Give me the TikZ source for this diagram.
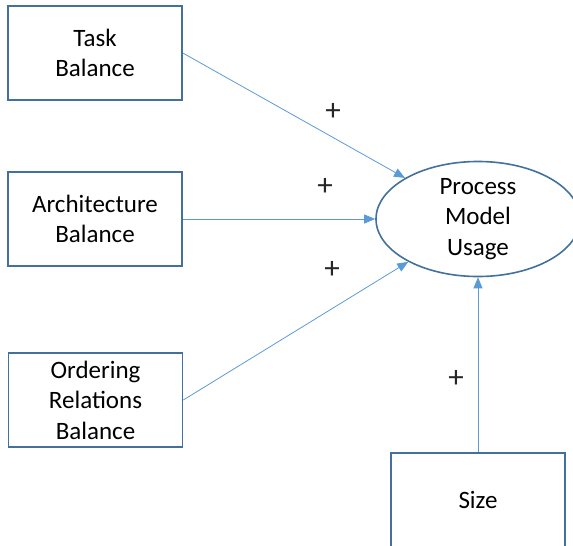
\documentclass[tikz,border=0pt]{standalone}
\usepackage{fontspec}
\setmainfont{Carlito}
\usepackage{tikz}
\usetikzlibrary{arrows.meta,shapes.geometric}

\definecolor{boxblue}{HTML}{41719C}
\definecolor{linkblue}{HTML}{5B9BD5}

\begin{document}
\begin{tikzpicture}[x=1pt, y=-1pt,
		font=\fontsize{25}{30.5}\selectfont,
		factor/.style={draw=boxblue, line width=1.6pt, minimum width=174pt, minimum height=94pt, align=center, inner sep=0pt},
		outcome/.style={ellipse, draw=boxblue, line width=1.6pt, minimum width=204pt, minimum height=100pt, align=center, inner sep=0pt},
		link/.style={draw=linkblue, line width=0.8pt, -{Triangle[length=11pt, width=9pt]}},
		sign/.style={text=black!85, font=\fontsize{31}{31}\selectfont}]
		\path[use as bounding box, clip] (0,0) rectangle (573,546);
		% factors on the left
		\node[factor] (task) at (95,53) {Task\\Balance};
		\node[factor] (arch) at (95,219) {Architecture\\Balance};
		\node[factor] (order) at (95.5,400) {Ordering\\Relations\\Balance};
		\node[factor] (size) at (478,500) {Size};
		% dependent variable
		\node[outcome] (usage) at (478,219) {Process\\Model\\Usage};
		% effects
		\draw[link] (task.east) -- (usage);
		\draw[link] (arch.east) -- (arch.east -| usage.west);
		\draw[link] (order.east) -- (usage);
		\draw[link] (size.north) -- (usage.south);
		\node[sign] (plusTask) at (333,112) {+};
		\node[sign] (plusArch) at (325,187) {+};
		\node[sign] (plusOrder) at (332,270) {+};
		\node[sign] (plusSize) at (456,379) {+};
	\end{tikzpicture}
\end{document}
